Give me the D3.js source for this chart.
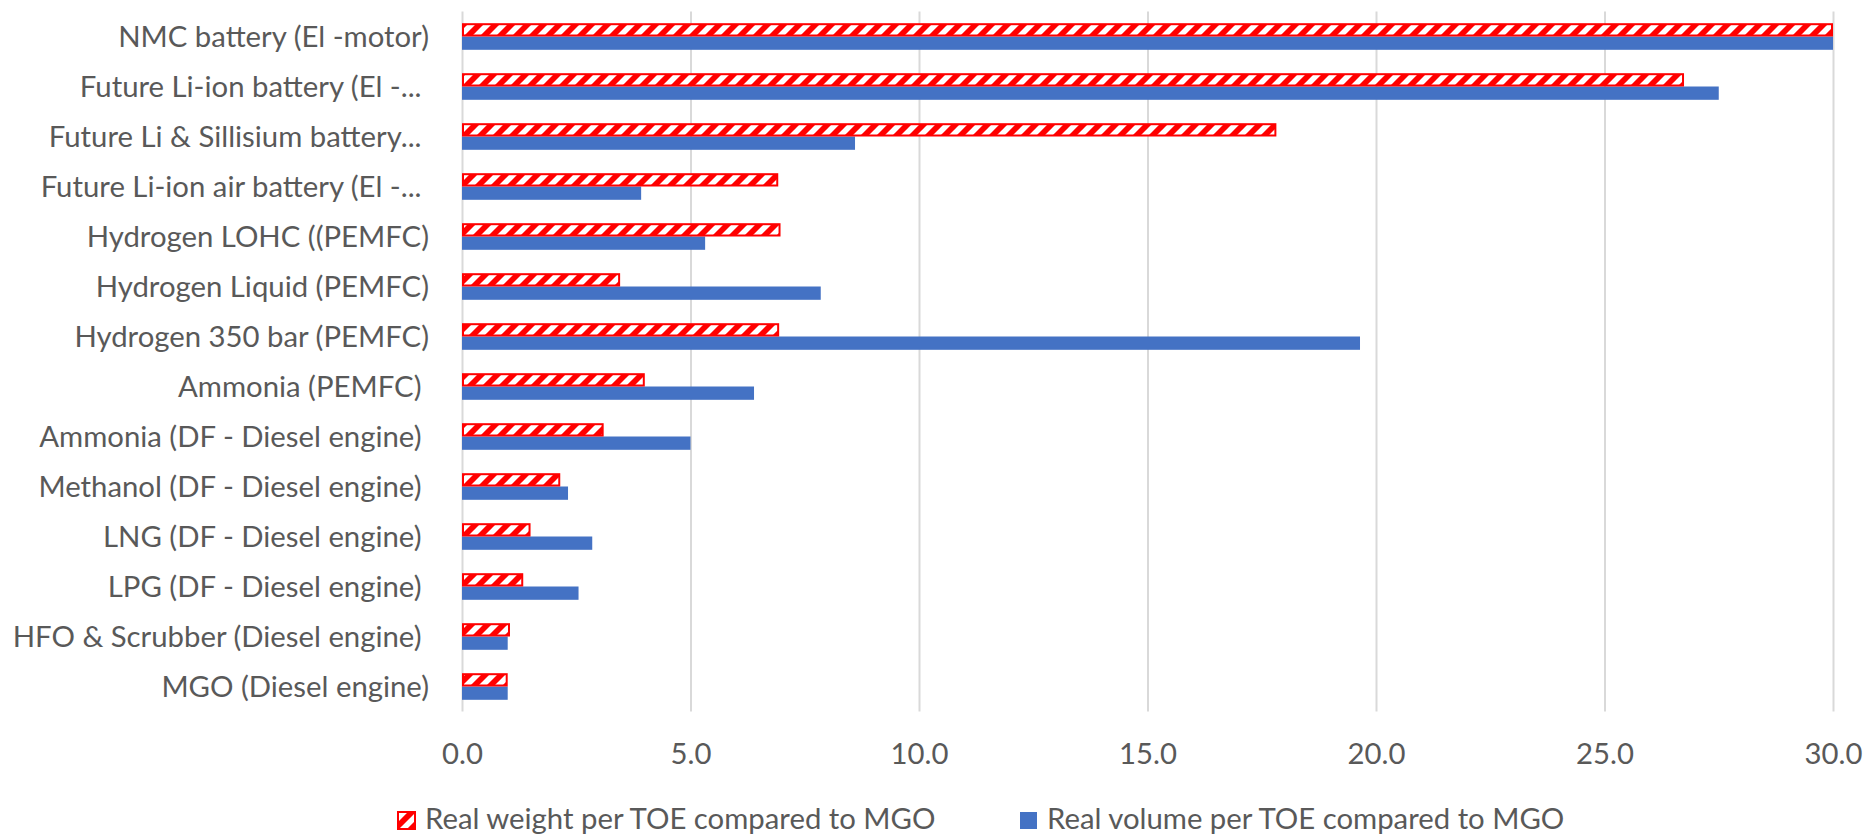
<!DOCTYPE html>
<html><head><meta charset="utf-8">
<script src="https://cdn.jsdelivr.net/npm/d3@7"></script>
<style>html,body{margin:0;padding:0;background:#fff;} svg text{white-space:pre;}</style>
</head><body>
<svg id="chart" width="1863" height="837"></svg>
<script>
// ---- data ----
const categories = [
  "NMC battery (El -motor)",
  "Future Li-ion battery (El -... ",
  "Future Li & Sillisium battery... ",
  "Future Li-ion air battery (El -... ",
  "Hydrogen LOHC ((PEMFC)",
  "Hydrogen Liquid (PEMFC)",
  "Hydrogen 350 bar (PEMFC)",
  "Ammonia (PEMFC) ",
  "Ammonia (DF - Diesel engine) ",
  "Methanol (DF - Diesel engine) ",
  "LNG (DF - Diesel engine) ",
  "LPG (DF - Diesel engine) ",
  "HFO & Scrubber (Diesel engine) ",
  "MGO (Diesel engine)"
];
const weightValues = [30.0, 26.74, 17.82, 6.92, 6.97, 3.46, 6.94, 4.0, 3.10, 2.15, 1.50, 1.34, 1.05, 1.0];
const volumeValues = [30.0, 27.5, 8.6, 3.92, 5.32, 7.85, 19.65, 6.39, 5.0, 2.32, 2.85, 2.55, 1.0, 1.0];
const xTicks = [0, 5, 10, 15, 20, 25, 30];
const seriesNames = ["Real weight per TOE compared to MGO", "Real volume per TOE compared to MGO"];

// ---- layout ----
const plot = {left: 462, right: 1833, top: 11.5, bottom: 711.5};
const textColor = "#595959";
const gridColor = "#d9d9d9";
const blue = "#4472C4";
const red = "#FF0000";
const fontFamily = "Lato, 'Open Sans', sans-serif";

const svg = d3.select("#chart");

// fit font size so that text width resembles original rendering
const probe = svg.append("text").attr("font-family", fontFamily).attr("font-size", 100).text("NMC battery (El -motor)");
const fs = 100 * 311 / probe.node().getComputedTextLength();
probe.remove();

// pattern for hatched bars
const defs = svg.append("defs");
const pat = defs.append("pattern").attr("id", "hatch").attr("patternUnits", "userSpaceOnUse")
  .attr("width", 16).attr("height", 16);
pat.append("rect").attr("width", 16).attr("height", 16).attr("fill", red);
pat.append("path").attr("d", "M-4,4 L4,-4 M0,16 L16,0 M12,20 L20,12")
  .attr("stroke", "#fff").attr("stroke-width", 5.6);

const x = d3.scaleLinear().domain([0, 30]).range([plot.left, plot.right]).clamp(true);
const y = d3.scaleBand().domain(categories).range([plot.top, plot.bottom]).paddingInner(0.468).paddingOuter(0.234);
const ySub = d3.scaleBand().domain(["weight", "volume"]).range([0, y.bandwidth()]);

// gridlines + x tick labels
const xAxis = svg.append("g").attr("transform", `translate(0,${plot.bottom})`)
  .call(d3.axisBottom(x).tickValues(xTicks).tickFormat(d3.format(".1f")).tickSize(-(plot.bottom - plot.top)));
xAxis.select(".domain").remove();
xAxis.selectAll(".tick line").attr("stroke", gridColor).attr("stroke-width", 2);
xAxis.selectAll(".tick text").attr("fill", textColor).attr("font-family", fontFamily)
  .attr("font-size", fs).attr("y", 764 - plot.bottom).attr("dy", 0);

// bars
const rows = categories.map((c, i) => ({c, w: weightValues[i], v: volumeValues[i]}));
svg.append("g").selectAll("rect").data(rows).join("rect")
  .attr("x", x(0)).attr("y", d => y(d.c) + ySub("volume"))
  .attr("width", d => x(d.v) - x(0)).attr("height", ySub.bandwidth())
  .attr("fill", blue);
svg.append("g").selectAll("rect").data(rows).join("rect")
  .attr("x", x(0) + 1).attr("y", d => y(d.c) + ySub("weight") + 1)
  .attr("width", d => Math.max(0, x(d.w) - x(0) - 2)).attr("height", ySub.bandwidth() - 2)
  .attr("fill", "url(#hatch)").attr("stroke", red).attr("stroke-width", 2);

// category labels
const yAxis = svg.append("g").attr("transform", `translate(${plot.left},0)`)
  .call(d3.axisLeft(y).tickSize(0).tickPadding(33));
yAxis.select(".domain").remove();
yAxis.selectAll(".tick text").attr("fill", textColor).attr("font-family", fontFamily)
  .attr("font-size", fs).attr("dy", "0.36em");

// legend
const legend = svg.append("g");
const legItems = [
  {name: seriesNames[0], fill: "url(#hatch)", stroke: red, sx: 398, tx: 425},
  {name: seriesNames[1], fill: blue, stroke: "none", sx: 1020, tx: 1047}
];
legItems.forEach(it => {
  legend.append("rect").attr("x", it.sx).attr("y", 812).attr("width", 17).attr("height", 17)
    .attr("fill", it.fill).attr("stroke", it.stroke).attr("stroke-width", 2);
  legend.append("text").attr("x", it.tx).attr("y", 829).attr("fill", textColor)
    .attr("font-family", fontFamily).attr("font-size", fs).text(it.name);
});
</script>
</body></html>
